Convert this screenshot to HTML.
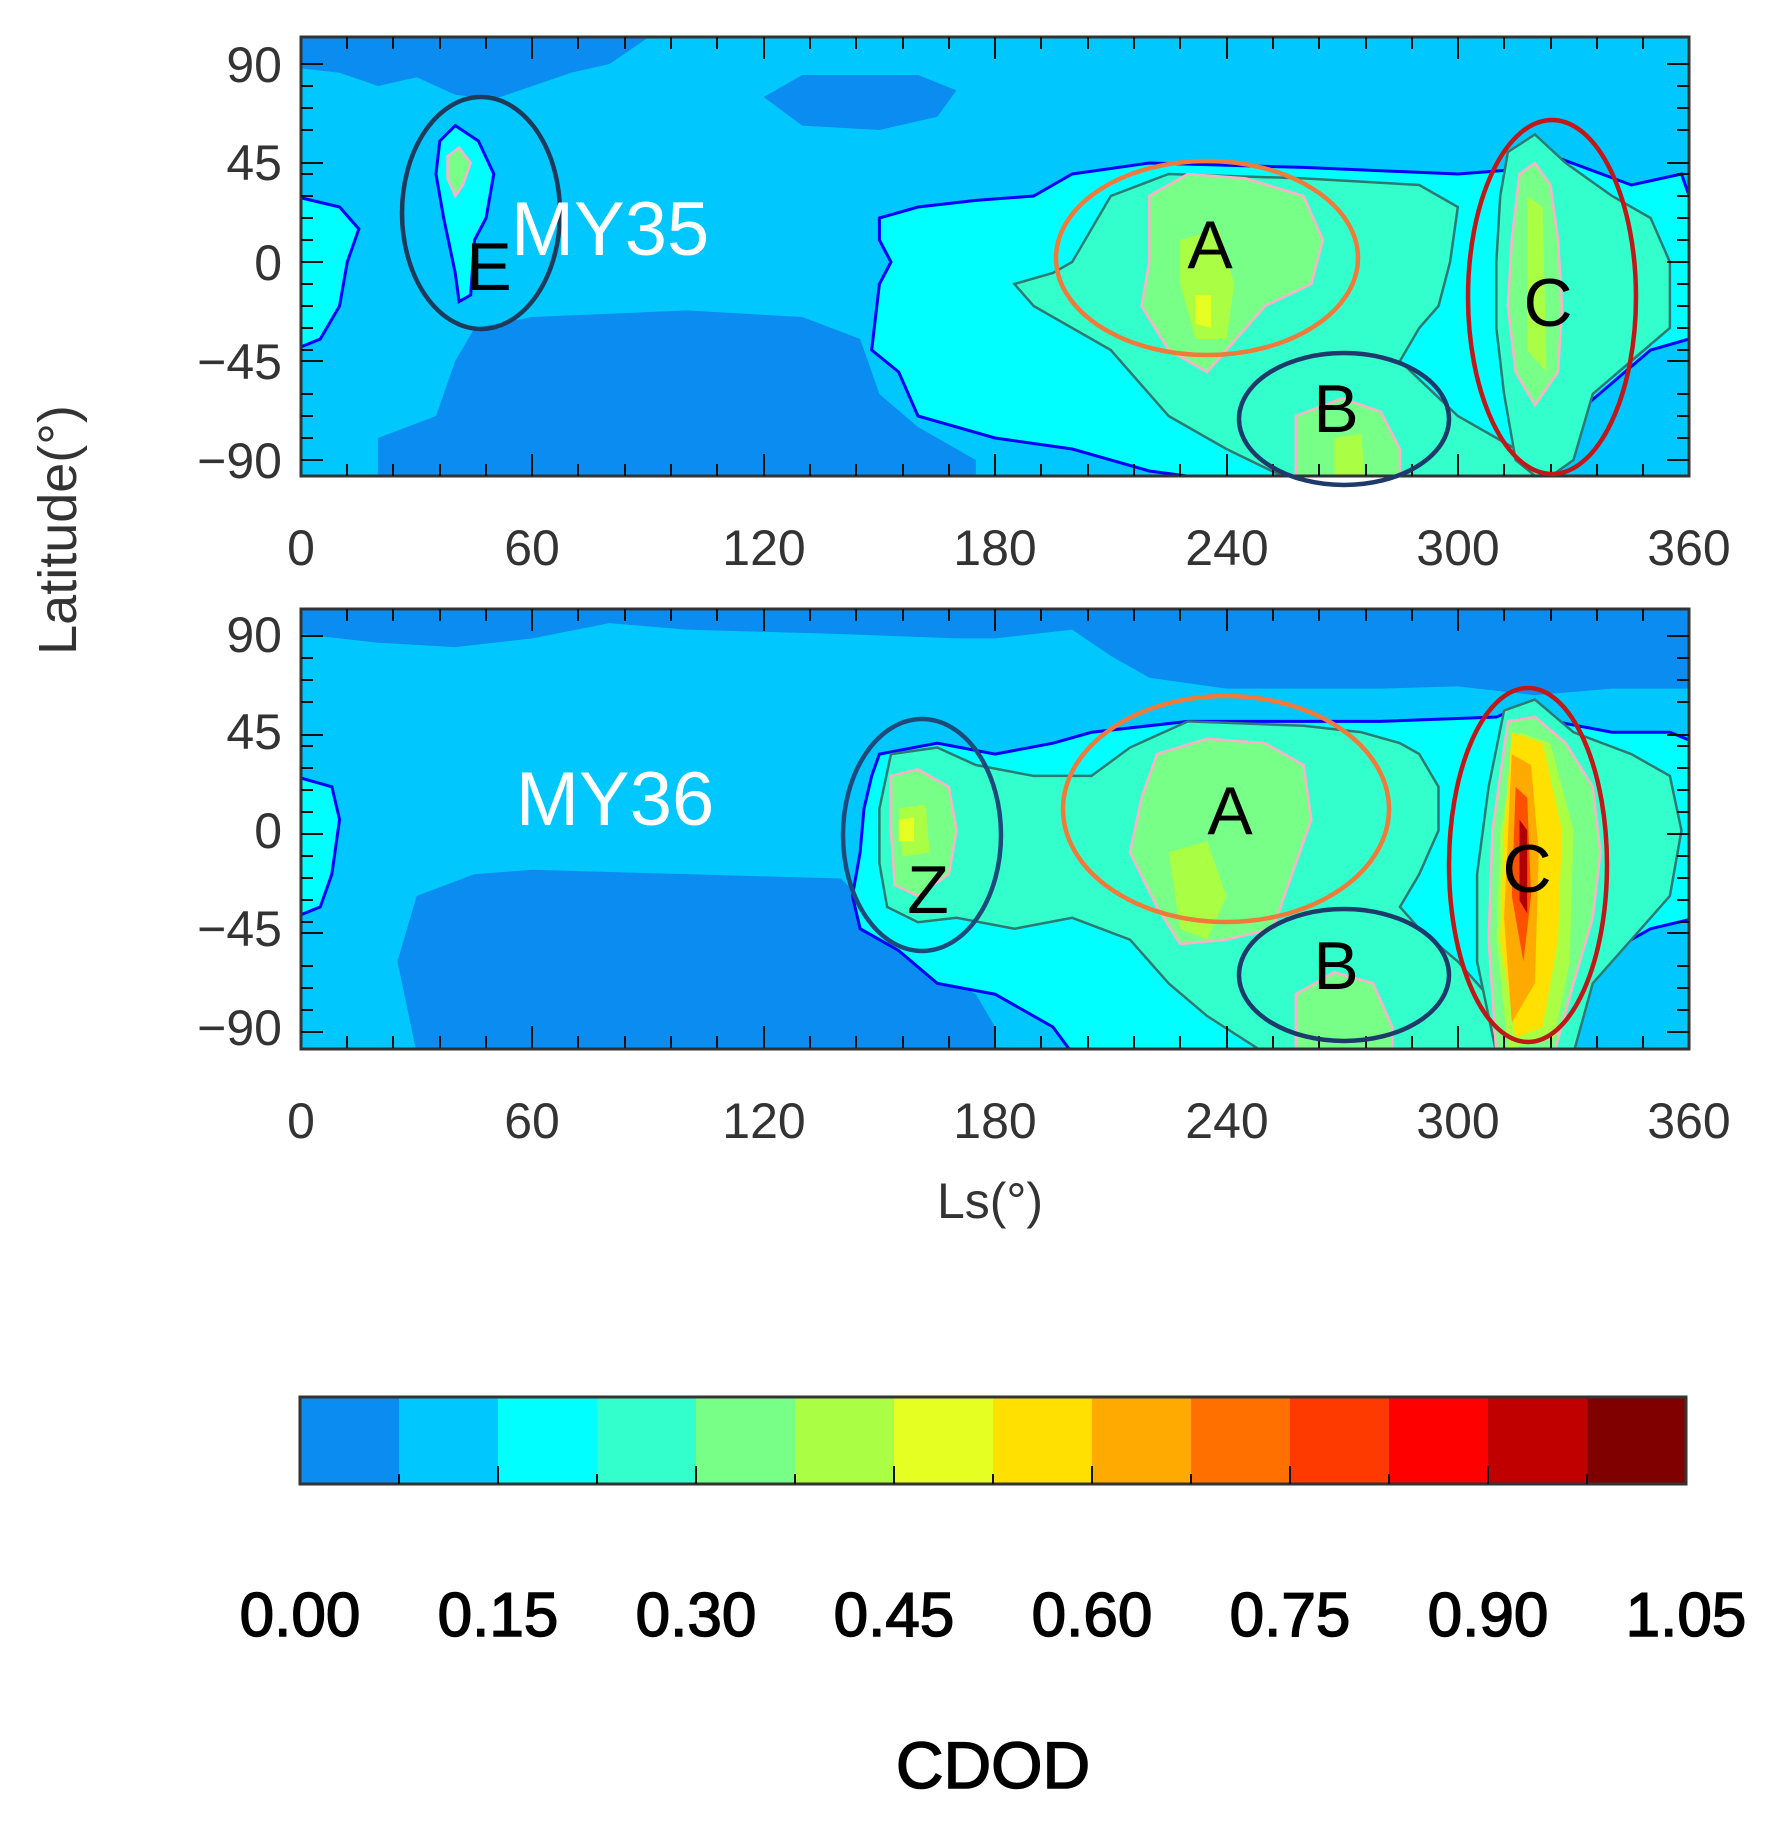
<!DOCTYPE html>
<html><head><meta charset="utf-8"><style>
html,body{margin:0;padding:0;background:#fff}
svg{display:block}
text{font-family:"Liberation Sans",sans-serif}
</style></head><body>
<svg width="1781" height="1829" viewBox="0 0 1781 1829" xmlns="http://www.w3.org/2000/svg">
<defs>
<clipPath id="c1"><rect x="301" y="37" width="1388" height="439"/></clipPath>
<clipPath id="c2"><rect x="301" y="609" width="1388" height="440"/></clipPath>
</defs>

<!-- Panel 1 -->
<g clip-path="url(#c1)">
<rect x="301" y="37" width="1388" height="439" fill="#00c8ff"/>
<g transform="translate(301,262) scale(3.856,-2.2)">
<g fill="#0a8cf0">
<polygon points="0,102 0,88 10,86 20,80 30,84 40,76 50,74 60,80 70,86 80,90 90,102"/>
<polygon points="120,75 130,62 150,60 165,66 170,78 160,85 130,85"/>
<polygon points="45,-30 60,-25 100,-22 130,-25 145,-35 150,-60 160,-75 175,-90 175,-102 20,-102 20,-80 35,-70 40,-45"/>
</g>
<g fill="#00ffff" stroke="#0000ff" stroke-width="3" vector-effect="non-scaling-stroke">
<polygon vector-effect="non-scaling-stroke" points="150,20 160,25 175,28 190,30 200,40 220,45 260,43 300,40 315,42 320,55 325,48 345,35 358,40 360,30 360,-35 350,-40 340,-55 330,-70 325,-90 300,-102 250,-102 220,-95 200,-85 180,-80 160,-70 155,-50 148,-40 150,-10 153,0 150,10"/>
<polygon vector-effect="non-scaling-stroke" points="-2,30 10,25 15,15 12,0 10,-20 5,-35 -2,-40"/>
<polygon vector-effect="non-scaling-stroke" points="36,55 40,62 46,55 50,40 48,20 45,10 44,-15 41,-18 40,-5 37,20 35,40"/>
</g>
<g fill="#33ffcc" stroke="#2e7a70" stroke-width="2.5">
<polygon vector-effect="non-scaling-stroke" points="185,-10 195,-5 200,0 210,30 225,40 260,38 290,35 300,25 298,0 295,-20 290,-30 285,-45 300,-70 320,-90 330,-102 300,-102 260,-102 240,-85 225,-70 215,-50 210,-40 200,-30 190,-20"/>
<polygon vector-effect="non-scaling-stroke" points="313,50 320,58 328,45 340,30 350,20 355,0 355,-30 345,-45 335,-60 330,-90 322,-100 315,-90 312,-60 310,-30 310,0 311,30"/>
</g>
<g fill="#77ff88" stroke="#ffb0c8" stroke-width="2.5">
<polygon vector-effect="non-scaling-stroke" points="220,30 230,40 245,38 260,30 265,10 262,-10 250,-20 240,-40 235,-50 225,-40 218,-20 220,0"/>
<polygon vector-effect="non-scaling-stroke" points="258,-70 270,-62 280,-68 285,-85 285,-102 258,-102"/>
<polygon vector-effect="non-scaling-stroke" points="316,40 320,45 324,35 326,10 327,-20 326,-50 320,-65 315,-50 313,-20 314,10"/>
<polygon vector-effect="non-scaling-stroke" points="38,48 41,52 44,45 42,35 40,30 38,38"/>
</g>
<g fill="#aaff44">
<polygon points="228,10 238,15 242,-10 240,-35 232,-35 228,-10"/>
<polygon points="318,30 322,25 323,-50 318,-40"/>
<polygon points="268,-80 275,-78 276,-102 268,-102"/>
</g>
<polygon fill="#e6ff22" points="232,-15 236,-15 236,-30 232,-28"/>
</g>
</g>
<rect x="301" y="37" width="1388" height="439" fill="none" stroke="#333" stroke-width="3"/>

<!-- Panel 2 -->
<g clip-path="url(#c2)">
<rect x="301" y="609" width="1388" height="440" fill="#00c8ff"/>
<g transform="translate(301,830.5) scale(3.856,-2.183)">
<g fill="#0a8cf0">
<polygon points="0,102 0,90 20,86 40,84 60,88 80,95 100,92 140,90 170,88 180,88 190,90 200,92 210,80 220,70 240,65 280,65 300,66 320,62 340,65 360,65 360,102"/>
<polygon points="30,-30 45,-20 60,-18 100,-20 140,-22 150,-40 160,-60 175,-75 180,-90 180,-102 30,-102 25,-60"/>
</g>
<g fill="#00ffff" stroke="#0000ff" stroke-width="3">
<polygon vector-effect="non-scaling-stroke" points="150,35 165,40 180,35 195,40 205,45 230,50 280,50 310,52 318,58 325,50 340,45 355,45 362,40 362,-40 350,-45 335,-60 330,-90 325,-102 200,-102 195,-90 180,-75 165,-70 155,-55 145,-45 143,-30 145,-10 146,10 148,25"/>
<polygon vector-effect="non-scaling-stroke" points="-2,25 8,20 10,5 8,-20 5,-35 -2,-40"/>
</g>
<g fill="#33ffcc" stroke="#2e7a70" stroke-width="2.5">
<polygon vector-effect="non-scaling-stroke" points="153,35 165,38 175,30 190,25 205,25 215,38 230,50 260,48 275,45 285,40 290,35 295,20 295,0 290,-20 285,-35 290,-45 300,-60 310,-80 315,-102 250,-102 235,-85 225,-70 215,-50 200,-40 185,-45 170,-40 160,-42 152,-35 150,-15 150,10"/>
<polygon vector-effect="non-scaling-stroke" points="312,55 320,60 330,45 345,35 355,25 358,0 355,-30 345,-50 335,-70 330,-102 310,-102 305,-60 305,-20 308,20"/>
</g>
<g fill="#77ff88" stroke="#ffb0c8" stroke-width="2.5">
<polygon vector-effect="non-scaling-stroke" points="153,25 160,28 168,20 170,0 168,-20 160,-30 154,-25 153,0"/>
<polygon vector-effect="non-scaling-stroke" points="222,35 235,42 250,40 260,30 262,5 258,-15 255,-30 252,-45 240,-50 228,-52 222,-35 215,-10 218,15"/>
<polygon vector-effect="non-scaling-stroke" points="258,-75 268,-65 278,-70 283,-90 283,-102 258,-102"/>
<polygon vector-effect="non-scaling-stroke" points="313,50 320,52 328,40 335,20 337,-10 335,-40 330,-70 325,-102 310,-102 308,-50 309,0"/>
</g>
<g fill="#aaff44">
<polygon points="225,-10 235,-5 240,-30 235,-50 228,-45"/>
<polygon points="155,10 162,12 163,-10 156,-12"/>
<polygon points="316,45 324,40 330,0 329,-60 325,-95 313,-100 310,-50 311,0"/>
</g>
<polygon fill="#e6ff22" points="155,5 159,6 159,-5 155,-5"/>
<polygon fill="#ffe000" points="314,45 322,40 327,0 326,-50 322,-90 315,-95 311,-50 312,0"/>
<polygon fill="#ffaa00" points="314,35 319,30 321,-10 320,-70 314,-88 312,-40"/>
<polygon fill="#ff5000" points="315,20 318,15 319,-30 317,-60 314,-30"/>
<polygon fill="#b00000" points="316,5 318,0 318,-38 316,-32"/>
</g>
</g>
<rect x="301" y="609" width="1388" height="440" fill="none" stroke="#333" stroke-width="3"/>

<!-- ticks -->
<g stroke="#111" stroke-width="2">
<path id="t1" d="
M347,37v12M393,37v12M440,37v12M486,37v12M532,37v22M578,37v12M625,37v12M671,37v12M717,37v12M764,37v22M810,37v12M856,37v12M903,37v12M949,37v12M995,37v22M1041,37v12M1088,37v12M1134,37v12M1180,37v12M1227,37v22M1273,37v12M1319,37v12M1366,37v12M1412,37v12M1458,37v22M1504,37v12M1551,37v12M1597,37v12M1643,37v12
M347,476v-12M393,476v-12M440,476v-12M486,476v-12M532,476v-22M578,476v-12M625,476v-12M671,476v-12M717,476v-12M764,476v-22M810,476v-12M856,476v-12M903,476v-12M949,476v-12M995,476v-22M1041,476v-12M1088,476v-12M1134,476v-12M1180,476v-12M1227,476v-22M1273,476v-12M1319,476v-12M1366,476v-12M1412,476v-12M1458,476v-22M1504,476v-12M1551,476v-12M1597,476v-12M1643,476v-12
M301,64h22M301,86h12M301,108h12M301,130h12M301,163h22M301,174h12M301,196h12M301,218h12M301,240h12M301,262h22M301,284h12M301,306h12M301,328h12M301,350h12M301,361h22M301,394h12M301,416h12M301,438h12M301,460h22
M1689,64h-22M1689,86h-12M1689,108h-12M1689,130h-12M1689,163h-22M1689,174h-12M1689,196h-12M1689,218h-12M1689,240h-12M1689,262h-22M1689,284h-12M1689,306h-12M1689,328h-12M1689,350h-12M1689,361h-22M1689,394h-12M1689,416h-12M1689,438h-12M1689,460h-22"/>
<use href="#t1" transform="translate(0,572)"/>
</g>

<!-- tick labels -->
<g font-size="50" fill="#333" text-anchor="end">
<text x="282" y="82">90</text><text x="282" y="180">45</text><text x="282" y="280">0</text><text x="282" y="379">−45</text><text x="282" y="478">−90</text>
<text x="282" y="652">90</text><text x="282" y="749">45</text><text x="282" y="848">0</text><text x="282" y="946">−45</text><text x="282" y="1045">−90</text>
</g>
<g font-size="50" fill="#333" text-anchor="middle">
<text x="301" y="565">0</text><text x="532" y="565">60</text><text x="764" y="565">120</text><text x="995" y="565">180</text><text x="1227" y="565">240</text><text x="1458" y="565">300</text><text x="1689" y="565">360</text>
<text x="301" y="1138">0</text><text x="532" y="1138">60</text><text x="764" y="1138">120</text><text x="995" y="1138">180</text><text x="1227" y="1138">240</text><text x="1458" y="1138">300</text><text x="1689" y="1138">360</text>
<text x="990" y="1218">Ls(°)</text>
<text transform="translate(76,530) rotate(-90)" font-size="54">Latitude(°)</text>
</g>

<!-- annotations -->
<g fill="none" stroke-width="4.5">
<ellipse cx="481" cy="213" rx="79" ry="116" stroke="#1e3a5a"/>
<ellipse cx="1207" cy="258" rx="151" ry="97" stroke="#f07a3a"/>
<ellipse cx="1344" cy="419" rx="105" ry="66" stroke="#1e3a6a"/>
<ellipse cx="1552" cy="297" rx="84" ry="177" stroke="#c01818"/>
<ellipse cx="922" cy="835" rx="79" ry="116" stroke="#1e4a7a"/>
<ellipse cx="1226" cy="809" rx="163" ry="113" stroke="#f07a3a"/>
<ellipse cx="1344" cy="975" rx="105" ry="66" stroke="#1e3a6a"/>
<ellipse cx="1528" cy="865" rx="79" ry="177" stroke="#c01818"/>
</g>
<g font-size="76" fill="#fff" text-anchor="middle">
<text x="610" y="255">MY35</text>
<text x="615" y="825">MY36</text>
</g>
<g font-size="68" fill="#000" text-anchor="middle">
<text x="489" y="290">E</text>
<text x="1210" y="268">A</text>
<text x="1336" y="432">B</text>
<text x="1548" y="326">C</text>
<text x="1230" y="834">A</text>
<text x="928" y="913">Z</text>
<text x="1336" y="989">B</text>
<text x="1527" y="892">C</text>
</g>

<!-- colorbar -->
<g>
<rect x="300" y="1397" width="99" height="87" fill="#0a8cf0"/>
<rect x="399" y="1397" width="99" height="87" fill="#00c8ff"/>
<rect x="498" y="1397" width="99" height="87" fill="#00ffff"/>
<rect x="597" y="1397" width="99" height="87" fill="#33ffcc"/>
<rect x="696" y="1397" width="99" height="87" fill="#77ff88"/>
<rect x="795" y="1397" width="99" height="87" fill="#aaff44"/>
<rect x="894" y="1397" width="99" height="87" fill="#e6ff22"/>
<rect x="993" y="1397" width="99" height="87" fill="#ffe000"/>
<rect x="1092" y="1397" width="99" height="87" fill="#ffaa00"/>
<rect x="1191" y="1397" width="99" height="87" fill="#ff7000"/>
<rect x="1290" y="1397" width="99" height="87" fill="#ff3a00"/>
<rect x="1389" y="1397" width="99" height="87" fill="#ff0000"/>
<rect x="1488" y="1397" width="99" height="87" fill="#c00000"/>
<rect x="1587" y="1397" width="99" height="87" fill="#800000"/>
<rect x="300" y="1397" width="1386" height="87" fill="none" stroke="#333" stroke-width="3"/>
<path stroke="#111" stroke-width="2" d="M399,1484v-10M498,1484v-18M597,1484v-10M696,1484v-18M795,1484v-10M894,1484v-18M993,1484v-10M1092,1484v-18M1191,1484v-10M1290,1484v-18M1389,1484v-10M1488,1484v-18M1587,1484v-10"/>
</g>
<g font-size="62" fill="#000" text-anchor="middle" stroke="#000" stroke-width="1.5">
<text x="300" y="1636">0.00</text><text x="498" y="1636">0.15</text><text x="696" y="1636">0.30</text><text x="894" y="1636">0.45</text><text x="1092" y="1636">0.60</text><text x="1290" y="1636">0.75</text><text x="1488" y="1636">0.90</text><text x="1686" y="1636">1.05</text>
<text x="993" y="1788" font-size="66">CDOD</text>
</g>
</svg>
</body></html>
